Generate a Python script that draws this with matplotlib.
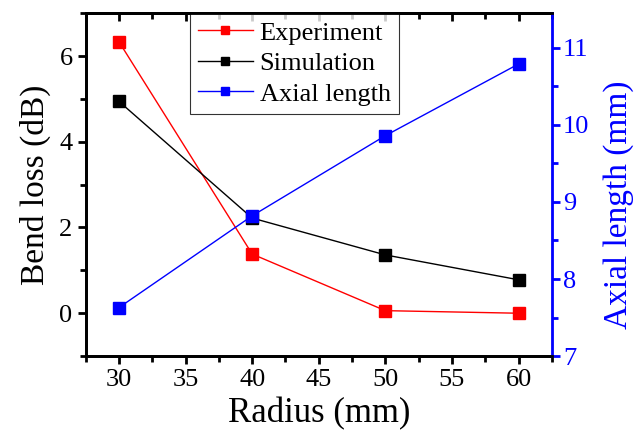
import numpy as np
import matplotlib.pyplot as plt
from matplotlib.ticker import MultipleLocator

# data
radius = [30, 40, 50, 60]
experiment = [6.33, 1.38, 0.06, 0.0]
simulation = [4.94, 2.22, 1.36, 0.78]
axial_length = [7.63, 8.82, 9.86, 10.79]

plt.rcParams['font.family'] = ['Liberation Serif', 'DejaVu Serif']

fig = plt.figure(figsize=(6.35, 4.38), dpi=100)
ax = fig.add_axes([0.135, 0.187, 0.734, 0.783])
ax2 = ax.twinx()

l1, = ax.plot(radius, experiment, color='red', lw=1, marker='s', ms=8.5,
              label='Experiment')
l2, = ax.plot(radius, simulation, color='black', lw=1, marker='s', ms=8.5,
              label='Simulation')
l3, = ax2.plot(radius, axial_length, color='blue', lw=1, marker='s', ms=8.5,
               label='Axial length')

ax.set_xlim(27.5, 62.5)
ax.set_ylim(-1, 7)
ax2.set_ylim(7, 11.45)

ax.xaxis.set_major_locator(MultipleLocator(5))
ax.xaxis.set_minor_locator(MultipleLocator(2.5))
ax.yaxis.set_major_locator(MultipleLocator(2))
ax.yaxis.set_minor_locator(MultipleLocator(1))
ax2.yaxis.set_major_locator(MultipleLocator(1))
ax2.yaxis.set_minor_locator(MultipleLocator(0.5))

for s in ['left', 'bottom', 'top']:
    ax.spines[s].set_linewidth(2)
    ax2.spines[s].set_linewidth(2)
ax2.spines['right'].set_linewidth(2)
ax2.spines['right'].set_color('blue')

ax.tick_params(axis='both', which='major', direction='out', length=6,
               width=2, labelsize=19)
ax.tick_params(axis='both', which='minor', direction='out', length=4, width=2)
ax2.tick_params(axis='y', which='major', direction='out', length=6, width=2,
                colors='blue', labelsize=19, pad=2)
ax2.tick_params(axis='y', which='minor', direction='out', length=4, width=2,
                colors='blue')

# top ticks point inward
top = ax.secondary_xaxis('top')
top.xaxis.set_major_locator(MultipleLocator(5))
top.xaxis.set_minor_locator(MultipleLocator(2.5))
top.tick_params(which='major', direction='in', length=6, width=2,
                labeltop=False)
top.tick_params(which='minor', direction='in', length=4, width=2)
top.spines['top'].set_linewidth(2)

ax.set_xlabel('Radius (mm)', fontsize=25, labelpad=4)
ax.set_ylabel('Bend loss (dB)', fontsize=24, labelpad=6)
ax2.set_ylabel('Axial length (mm)', fontsize=24, color='blue')
ax2.yaxis.set_label_coords(1.11, 0.44)

leg = ax.legend(handles=[l1, l2, l3], loc='upper left',
                bbox_to_anchor=(0.223, 1.0), fontsize=19, frameon=True,
                fancybox=False, borderpad=0.3, labelspacing=0.27,
                handlelength=2.1, handletextpad=0.25, borderaxespad=0,
                markerscale=0.75)
leg.get_frame().set_edgecolor('black')
leg.get_frame().set_linewidth(0.8)
leg.set_zorder(5)

fig.savefig('out.png', dpi=100)
